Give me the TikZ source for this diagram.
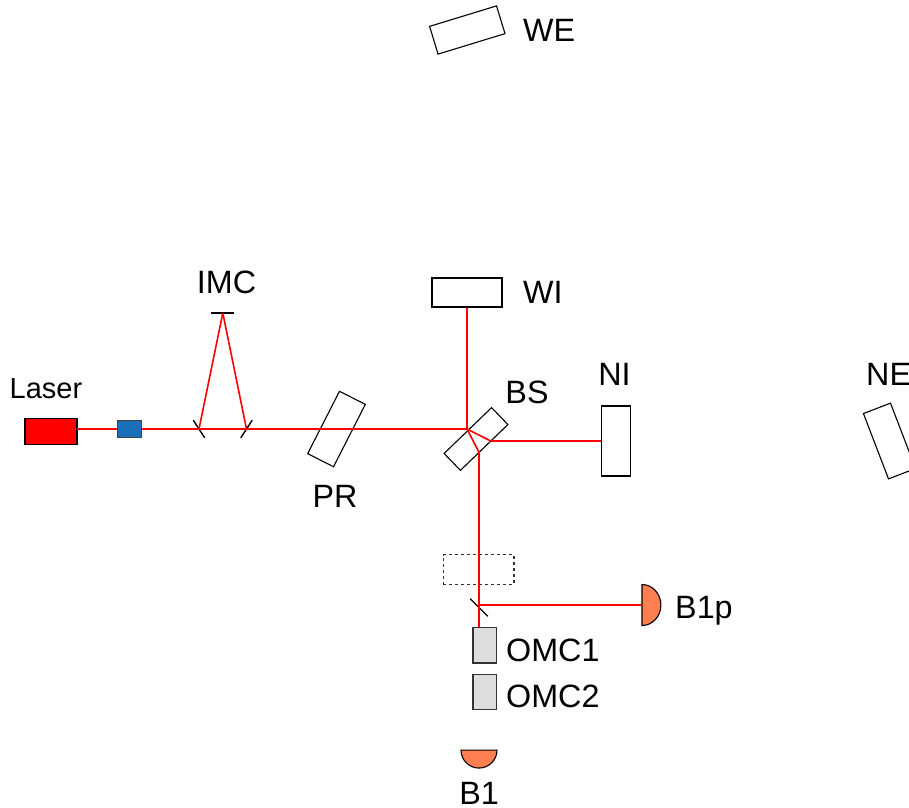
\documentclass[tikz,border=0pt]{standalone}
\usepackage{fontspec}
\setmainfont{Liberation Sans}
\usepackage{color}
\usetikzlibrary{shapes.geometric}
\definecolor{beamred}{HTML}{FF0000}
\definecolor{eomblue}{HTML}{1A70B8}
\definecolor{pdcoral}{HTML}{FF7F50}
\definecolor{omcgrey}{HTML}{DDDDDD}
\tikzstyle{optic}=[rectangle, draw=black, line width=1.1pt, fill=white, inner sep=0pt, minimum width=70pt, minimum height=29pt]
\tikzstyle{steer}=[rectangle, fill=black, inner sep=0pt, minimum height=1.4pt, minimum width=21pt]
\tikzstyle{omc_box}=[rectangle, draw=black!80, line width=1.1pt, fill=omcgrey, inner sep=0pt, minimum width=23.5pt]
\tikzstyle{pd}=[semicircle, draw=black, line width=1.1pt, fill=pdcoral, inner sep=0pt, minimum size=18pt, anchor=chord center]
\tikzstyle{beam}=[draw=beamred, line width=1.6pt]
\tikzstyle{lbl}=[inner sep=0pt, font=\fontsize{32.3}{36}\selectfont]
\begin{document}
\begin{tikzpicture}[x=1pt,y=-1pt]
          \clip (0,0) rectangle (909,807);
          % laser bench
          \node[rectangle, draw=black, line width=1.1pt, fill=red, inner sep=0pt, minimum width=52pt, minimum height=26pt] (laser) at (51,431.3){};
          \coordinate (laser_out) at (77,429);
          \node[rectangle, draw=black!75, line width=1.1pt, fill=eomblue, inner sep=0pt, minimum width=24.5pt, minimum height=17.5pt] (eom) at (129.5,429){};
          % input mode cleaner
          \node[steer, rotate=-57] (imc_l) at (199,429){};
          \node[steer, rotate=57] (imc_r) at (246.5,429){};
          \node[steer, minimum width=23pt] (imc_t) at (222.8,313){};
          % main optics
          \node[optic, rotate=63] (PR) at (336.5,429){};
          \node[optic, minimum width=66pt, minimum height=23.5pt, rotate=44] (BS) at (476,439){};
          \node[optic] (WI) at (467,292.5){};
          \node[optic, rotate=17] (WE) at (467.3,30){};
          \node[optic, rotate=90] (NI) at (616,441){};
          \node[optic, rotate=-69] (NE) at (889.5,441){};
          \coordinate (bs_hit) at (467,429);
          \coordinate (bs_n) at (490.7,441);
          \coordinate (bs_s) at (479,452.3);
          % output path
          \node[rectangle, draw=black!80, dashed, line width=1.1pt, inner sep=0pt, minimum width=70.5pt, minimum height=29.5pt] (faraday) at (478.7,569.5){};
          \node[steer, minimum width=25pt, rotate=-45] (pick) at (479,607.5){};
          \coordinate (pick_hit) at (479,605);
          \node[omc_box, minimum height=35.5pt] (OMC1) at (484.7,645.2){};
          \node[omc_box, minimum height=35pt] (OMC2) at (484.7,692){};
          \node[pd, rotate=-90, minimum size=20.5pt, yscale=.92] (B1p) at (641.5,605){};
          \node[pd, rotate=180] (B1) at (479,749.5){};
          % beams
          \draw[beam](laser_out) -- (eom);
          \draw[beam](eom) -- (imc_l.center);
          \draw[beam](imc_l.center) -- (imc_t.center);
          \draw[beam](imc_t.center) -- (imc_r.center);
          \draw[beam](imc_l.center) -- (imc_r.center);
          \draw[beam](imc_r.center) -- (bs_hit);
          \draw[beam](bs_hit) -- (WI);
          \draw[beam](bs_hit) -- (bs_n);
          \draw[beam](bs_n) -- (NI);
          \draw[beam](bs_hit) -- (bs_s);
          \draw[beam](bs_s) -- (pick_hit);
          \draw[beam](pick_hit) -- (OMC1.north -| pick_hit);
          \draw[beam](pick_hit) -- (B1p.chord center);
          % labels
          \node[lbl, anchor=west] (lbl_WE) at (523,30){WE};
          \node[lbl, anchor=west] (lbl_WI) at (523,292.5){WI};
          \node[lbl] (lbl_IMC) at (226.5,282.5){IMC};
          \node[lbl, font=\fontsize{29}{32}\selectfont] (lbl_laser) at (46,389){Laser};
          \node[lbl] (lbl_BS) at (527,392){BS};
          \node[lbl] (lbl_NI) at (614.5,374.5){NI};
          \node[lbl, anchor=west] (lbl_NE) at (866,374.5){NE};
          \node[lbl] (lbl_PR) at (335,496){PR};
          \node[lbl, anchor=base west] (lbl_B1p) at (675,618){B1p};
          \node[lbl, anchor=west] (lbl_OMC1) at (506,650){OMC1};
          \node[lbl, anchor=west] (lbl_OMC2) at (506,696){OMC2};
          \node[lbl] (lbl_B1) at (479,793){B1};
\end{tikzpicture}
\end{document}
